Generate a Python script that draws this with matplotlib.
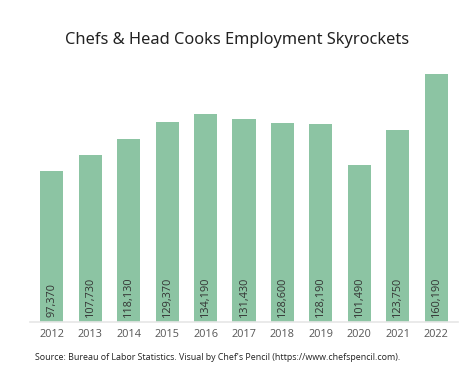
import matplotlib
matplotlib.use("Agg")
import matplotlib.pyplot as plt

years = ["2012", "2013", "2014", "2015", "2016", "2017", "2018", "2019", "2020", "2021", "2022"]
employment = [97370, 107730, 118130, 129370, 134190, 131430, 128600, 128190, 101490, 123750, 160190]
value_labels = ["97,370", "107,730", "118,130", "129,370", "134,190", "131,430",
                "128,600", "128,190", "101,490", "123,750", "160,190"]

fig = plt.figure(figsize=(4.74, 3.83), dpi=100)
ax = fig.add_axes([30/474, 1-322/383, 428/474, 262/383])
x = list(range(len(years)))
ax.bar(x, employment, width=0.6, color="#8cc4a3")
ax.set_xlim(-0.57, len(years) - 0.43)
ax.set_ylim(0, 160190 * 262 / 248)
for xi, lab in zip(x, value_labels):
    ax.text(xi, 3000, lab, rotation=90, ha="center", va="bottom",
            fontsize=7.8, color="#333333", family="Open Sans")
ax.set_xticks(x)
ax.set_xticklabels(years, fontsize=7.8, color="#555555", family="Open Sans")
ax.tick_params(axis="x", length=0, pad=5)
ax.set_yticks([])
for s in ["top", "right", "left"]:
    ax.spines[s].set_visible(False)
ax.spines["bottom"].set_color("#e6e6e6")
ax.spines["bottom"].set_linewidth(1.2)

fig.text(0.5, 1-40/383, "Chefs & Head Cooks Employment Skyrockets", ha="center", va="center",
         fontsize=11.8, color="#222222", family="Noto Sans")
fig.text(35/474, 1-357/383, "Source: Bureau of Labor Statistics. Visual by Chef's Pencil (https://www.chefspencil.com).",
         ha="left", va="center", fontsize=6.4, color="#222222", family="Open Sans")

fig.savefig("out.png", dpi=100)
